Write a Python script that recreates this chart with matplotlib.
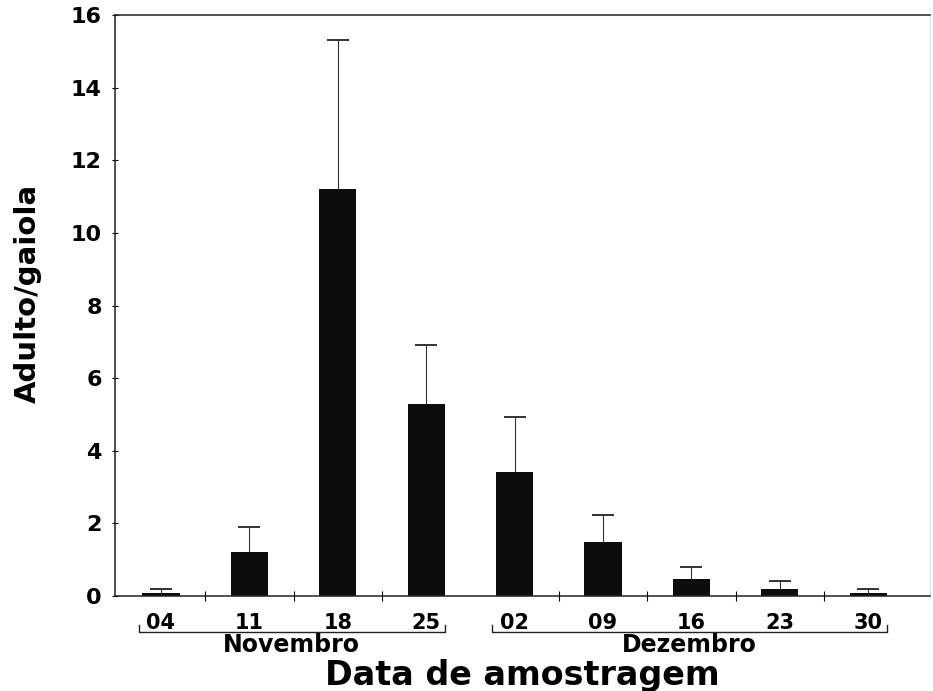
import numpy as np
import matplotlib
matplotlib.use("Agg")
import matplotlib.pyplot as plt

# dados (media de adultos por gaiola + erro padrao)
days = ["04", "11", "18", "25", "02", "09", "16", "23", "30"]
months = ["Novembro", "Novembro", "Novembro", "Novembro",
          "Dezembro", "Dezembro", "Dezembro", "Dezembro", "Dezembro"]
means = [0.07, 1.22, 11.2, 5.3, 3.42, 1.5, 0.48, 0.19, 0.09]
errors = [0.13, 0.68, 4.1, 1.6, 1.52, 0.72, 0.32, 0.21, 0.1]

plt.rcParams['font.family'] = ['DejaVu Sans']
plt.rcParams['font.weight'] = 'bold'

fig = plt.figure(figsize=(9.33, 6.91), dpi=100)
ax = fig.add_axes([115/933, 95/691, 815/933, 581/691])

x = np.arange(len(days))
w = 0.42
ax.bar(x, means, width=w, color='#0d0d0d', zorder=2)
eb = ax.errorbar(x, means, yerr=[np.zeros(len(errors)), errors], fmt='none',
                 ecolor='#333333', elinewidth=0.8, capsize=8, capthick=1.4, zorder=1)
# so a barra superior, esconde o cap de baixo
eb[1][0].set_visible(False)

ax.set_xlim(-0.52, 8.7)
ax.set_ylim(0, 16)
ax.set_yticks(np.arange(0, 17, 2))
ax.tick_params(axis='y', direction='inout', length=5, width=0.8, pad=7, labelsize=16)

ax.set_xticks(x)
ax.set_xticklabels(days)
ax.tick_params(axis='x', which='major', length=0, pad=12, labelsize=15)
mids = [i + 0.5 for i in range(len(days) - 1) if months[i] == months[i + 1]]
ax.set_xticks(mids, minor=True)
ax.tick_params(axis='x', which='minor', direction='inout', length=7, width=0.8)

for s in ['left', 'bottom', 'top']:
    ax.spines[s].set_linewidth(1.1)
    ax.spines[s].set_color('#222222')
ax.spines['right'].set_color('#dddddd')
ax.spines['right'].set_linewidth(0.8)

# colchetes dos meses
tr = ax.get_xaxis_transform()
for m in ["Novembro", "Dezembro"]:
    idx = [i for i, mm in enumerate(months) if mm == m]
    x0, x1 = idx[0] - w / 2 - 0.04, idx[-1] + w / 2
    ax.plot([x0, x0, x1, x1], [-0.050, -0.062, -0.062, -0.050], transform=tr,
            color='#222222', lw=1.0, clip_on=False)
    ax.text((x0 + x1) / 2, -0.084, m, transform=tr, ha='center', va='center',
            fontsize=17, fontweight='bold')

ax.set_ylabel("Adulto/gaiola", fontsize=21, fontweight='bold')
ax.yaxis.set_label_coords(-0.09, 0.52)
ax.set_xlabel("Data de amostragem", fontsize=24, fontweight='bold')
ax.xaxis.set_label_coords(0.5, -0.136)
ax.xaxis.label.set_va('center')

fig.savefig("out.png", dpi=100)
